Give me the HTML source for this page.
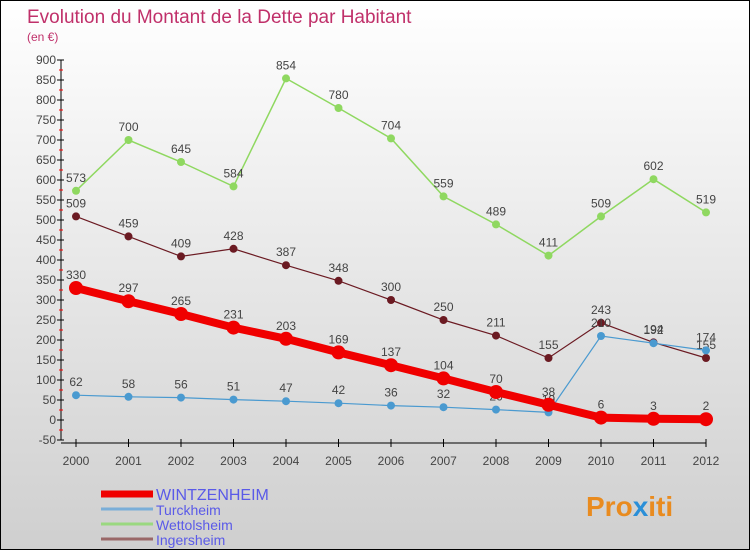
<!DOCTYPE html>
<html><head><meta charset="utf-8"><style>
body{margin:0}
#wrap{width:748px;height:548px;border:1px solid #000;background:linear-gradient(#fff,#cfcfcf);position:relative;overflow:hidden;font-family:"Liberation Sans",sans-serif}
</style></head><body>
<div id="wrap">
<svg id="c" width="748" height="548" style="position:absolute;left:0;top:0">
<text x="26" y="22" font-size="19" fill="#c0306a">Evolution du Montant de la Dette par Habitant</text>
<text x="26" y="40" font-size="12" fill="#c0306a">(en €)</text>
<g id="axes"></g><g id="series"></g>
<text x="585" y="515" font-size="28" font-weight="bold" fill="#e98b1f">Pro<tspan fill="#2a8fd8">x</tspan>iti</text>
</svg>
</div>
<script>
const years=[2000,2001,2002,2003,2004,2005,2006,2007,2008,2009,2010,2011,2012];
const yTicks=[-50,0,50,100,150,200,250,300,350,400,450,500,550,600,650,700,750,800,850,900];
const wintz=[330,297,265,231,203,169,137,104,70,38,6,3,2];
const turck=[62,58,56,51,47,42,36,32,26,19,210,192,174];
const wetto=[573,700,645,584,854,780,704,559,489,411,509,602,519];
const inger=[509,459,409,428,387,348,300,250,211,155,243,194,155];
const NS="http://www.w3.org/2000/svg";
const X=i=>75+i*52.5, Y=v=>419-v*0.4;
function mk(t,a,p){const e=document.createElementNS(NS,t);for(const k in a)e.setAttribute(k,a[k]);(p||document.getElementById('series')).appendChild(e);return e;}
const ax=document.getElementById('axes');
let e=mk('line',{x1:60,y1:Y(900),x2:60,y2:Y(-50),stroke:'#000'},ax);

e=mk('line',{x1:60,y1:442,x2:X(12),y2:442,stroke:'#000'},ax);

yTicks.forEach(v=>{
 mk('line',{x1:56,y1:Y(v),x2:63,y2:Y(v),stroke:'#000'},ax);
 if(v<900)mk('line',{x1:58,y1:Y(v+25),x2:62,y2:Y(v+25),stroke:'red'},ax);
 const t=mk('text',{x:55,y:Y(v)+4,'text-anchor':'end','font-size':12,fill:'#444'},ax);t.textContent=v;
 
});
years.forEach((y,i)=>{
 mk('line',{x1:X(i),y1:438,x2:X(i),y2:446,stroke:'#000'},ax);
 const t=mk('text',{x:X(i),y:464,'text-anchor':'middle','font-size':12,fill:'#444'},ax);t.textContent=y;
 
});
function series(d,col,w,r,name){
 const p=mk('polyline',{points:d.map((v,i)=>X(i)+','+Y(v)).join(' '),fill:'none',stroke:col,'stroke-width':w});
 
 d.forEach((v,i)=>{
  const c=mk('circle',{cx:X(i),cy:Y(v),r:r,fill:col});
  
  const t=mk('text',{x:X(i),y:Y(v)-9,'text-anchor':'middle','font-size':12,fill:'#444'});t.textContent=v;
  
 });
}
series(wetto,'#8fd860',1.5,4,'wettolsheim');
series(inger,'#6b1a22',1.2,4,'ingersheim');
series(turck,'#4a9ad0',1.2,4,'turckheim');
series(wintz,'#f00000',8,7,'wintzenheim');
const leg=[['WINTZENHEIM','#f00000',7],['Turckheim','#7aaed8',3],['Wettolsheim','#9ad880',3],['Ingersheim','#9a6868',3]];
leg.forEach((l,i)=>{
 const y=493+i*15;
 const ln=mk('line',{x1:100,y1:y,x2:152,y2:y,stroke:l[1],'stroke-width':l[2]});
 
 const t=mk('text',{x:155,y:y+6,'font-size':i?14:16,fill:'#5a5ae8'});t.textContent=l[0];
 
});
</script>
</body></html>
